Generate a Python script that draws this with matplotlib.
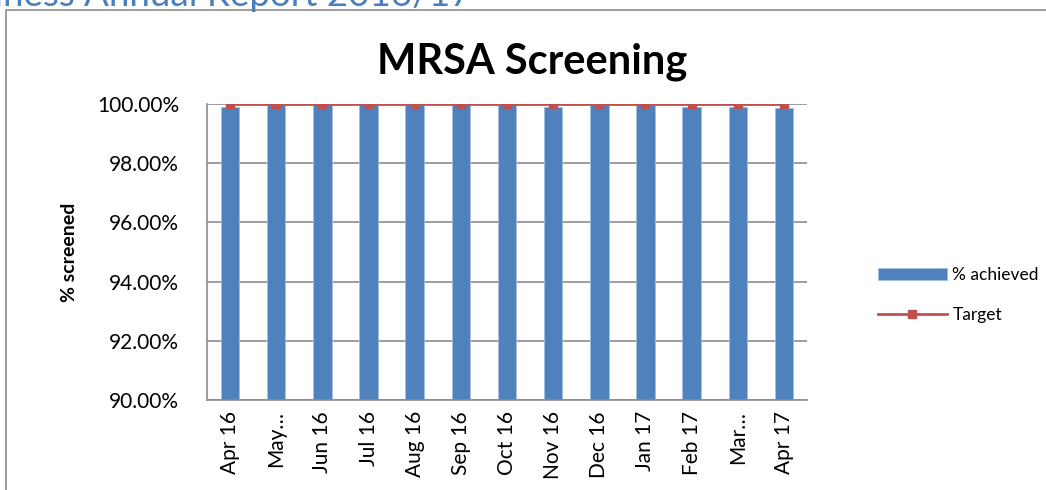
import matplotlib
matplotlib.use("Agg")
import matplotlib.pyplot as plt
from matplotlib.patches import Rectangle
from matplotlib.ticker import FuncFormatter

# data
months = ['Apr 16', 'May…', 'Jun 16', 'Jul 16', 'Aug 16', 'Sep 16', 'Oct 16',
          'Nov 16', 'Dec 16', 'Jan 17', 'Feb 17', 'Mar…', 'Apr 17']
achieved = [99.90, 99.97, 99.97, 99.97, 99.97, 99.97, 99.97,
            99.91, 99.97, 99.97, 99.91, 99.91, 99.88]
target = [100.0] * 13

plt.rcParams['font.family'] = ['Lato', 'DejaVu Sans']

fig = plt.figure(figsize=(10.46, 4.90), dpi=100)

# header of the report page, clipped at the top (as in the source page)
fig.text(472 / 1046, 1 - 6 / 490, 'Business Annual Report 2016/17', ha='right', va='baseline',
         fontsize=26.5, color='#4A7EBF')

# chart frame
fig.patches.append(Rectangle((6 / 1046, -0.1), 1.2, 1 - 10 / 490 + 0.1, transform=fig.transFigure,
                             fill=False, edgecolor='#8c8c8c', linewidth=1.2))

ax = fig.add_axes([207 / 1046, 1 - 400 / 490, 600 / 1046, 296 / 490])
x = list(range(len(months)))
ax.bar(x, [v - 90 for v in achieved], bottom=90, width=0.4, color='#4F81BD',
       edgecolor='#A7C0E0', linewidth=0.6, label='% achieved', zorder=2)
ax.plot(x, target, color='#C0504D', linewidth=2, marker='s', markersize=6,
        label='Target', zorder=3)

ax.set_xlim(-0.5, len(months) - 0.5)
ax.set_ylim(90, 100)
ax.set_yticks([90, 92, 94, 96, 98, 100])
ax.yaxis.set_major_formatter(FuncFormatter(lambda v, p: f'{v:.2f}%'))
ax.grid(axis='y', color='#8c8c8c', linewidth=1.2, zorder=0)
ax.set_axisbelow(True)
for s in ['top', 'right']:
    ax.spines[s].set_visible(False)
for s in ['left', 'bottom']:
    ax.spines[s].set_color('#8c8c8c')
    ax.spines[s].set_linewidth(1.2)
ax.tick_params(axis='y', length=0, labelsize=15, pad=20)
ax.tick_params(axis='x', length=0, labelsize=15, pad=8)
ax.set_xticks(x)
ax.set_xticklabels(months, rotation=90)
ax.set_ylabel('% screened', fontsize=14, fontweight='bold', labelpad=14)

fig.text(532 / 1046, 1 - 62 / 490, 'MRSA Screening', ha='center', va='center',
         fontsize=30, fontweight='bold')

handles, labels = ax.get_legend_handles_labels()
order = [labels.index('% achieved'), labels.index('Target')]
ax.legend([handles[i] for i in order], [labels[i] for i in order],
          loc='center left', bbox_to_anchor=(862 / 1046, 1 - 295 / 490), bbox_transform=fig.transFigure,
          frameon=False, fontsize=12.5, handlelength=4.0, labelspacing=1.4, handletextpad=0.3)

fig.savefig('out.png', dpi=100)
